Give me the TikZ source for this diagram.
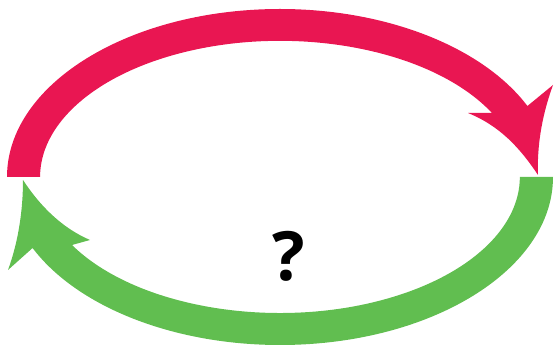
\documentclass[tikz,border=0pt]{standalone}
\usepackage{fontspec}
\setmainfont{Open Sans}
\definecolor{arrred}{RGB}{233,22,82}
\definecolor{arrgreen}{RGB}{97,190,80}
\begin{document}
\begin{tikzpicture}[x=1pt,y=1pt,
  band/.style={draw=none},
  qmark/.style={font=\fontsize{68}{68}\selectfont\bfseries, inner sep=0pt}]
\useasboundingbox (0,0) rectangle (555,348);
% red upper arrow
\fill[arrred,band] (7,171) arc[start angle=180,end angle=25,x radius=273,y radius=168]
  -- (553,263) .. controls (541,230) and (537,200) .. (538,173)
  .. controls (520,200) and (500,222) .. (468,235)
  -- (492,235) arc[start angle=28,end angle=180,x radius=240,y radius=136] -- cycle;
% green lower arrow
\fill[arrgreen,band] (553,171) arc[start angle=0,end angle=-155,x radius=273,y radius=168]
  -- (8,78) .. controls (19,108) and (23,140) .. (23,168)
  .. controls (40,142) and (62,120) .. (90,108)
  -- (72,103) arc[start angle=-150,end angle=0,x radius=240,y radius=136] -- cycle;
\node[qmark] (q) at (289,92) {?};
\end{tikzpicture}
\end{document}
